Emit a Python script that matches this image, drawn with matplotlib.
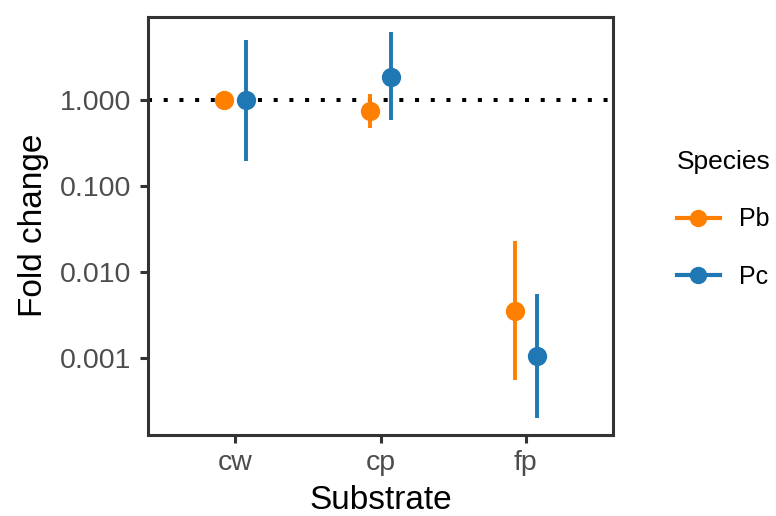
import numpy as np
import matplotlib
matplotlib.use("Agg")
import matplotlib.pyplot as plt
from matplotlib.lines import Line2D

plt.rcParams["font.family"] = ["Liberation Sans", "DejaVu Sans"]

# data
substrates = ["cw", "cp", "fp"]
species = ["Pb", "Pc"]
pb_fold = [1.0, 0.75, 0.00355]
pb_low = [1.0, 0.477, 0.000555]
pb_high = [1.0, 1.2, 0.0231]
pc_fold = [1.0, 1.9, 0.00105]
pc_low = [0.197, 0.585, 0.000202]
pc_high = [5.0, 6.2, 0.00555]

ORANGE = "#FF7F00"
BLUE = "#1F78B4"
BORDER = "#333333"

fig = plt.figure(figsize=(7.76, 5.16), dpi=100)
ax = fig.add_axes([148 / 776, 1 - 435 / 516, (613 - 148) / 776, (435 - 16.5) / 516])

ax.axhline(1.0, color="black", lw=2.9, linestyle=(0, (1, 2.9)), zorder=1)

x = np.arange(len(substrates))
dodge = 0.075
series = [
    (pb_fold, pb_low, pb_high, ORANGE, -dodge),
    (pc_fold, pc_low, pc_high, BLUE, dodge),
]
for fold, low, high, col, off in series:
    fold = np.array(fold)
    yerr = np.vstack([fold - np.array(low), np.array(high) - fold])
    ax.errorbar(x + off, fold, yerr=yerr, fmt="o", color=col, ms=13.9,
                elinewidth=2.8, capsize=0, mew=0, zorder=3)

ax.set_yscale("log")
ax.set_ylim(1.27e-4, 9.5)
ax.set_xlim(-0.6, 2.6)
ax.set_xticks(x)
ax.set_xticklabels(substrates)
ax.set_yticks([0.001, 0.01, 0.1, 1.0])
ax.set_yticklabels(["0.001", "0.010", "0.100", "1.000"])
ax.yaxis.set_minor_locator(matplotlib.ticker.NullLocator())

for s in ax.spines.values():
    s.set_color(BORDER)
    s.set_linewidth(2.2)
ax.tick_params(axis="both", length=6, width=2.2, color=BORDER,
               labelcolor="#4D4D4D", labelsize=20.5)
ax.tick_params(axis="y", pad=6)
ax.tick_params(axis="x", pad=5)

ax.set_xlabel("Substrate", fontsize=24, labelpad=6)
ax.set_ylabel("Fold change", fontsize=24, labelpad=8)

handles = [
    Line2D([], [], color=ORANGE, lw=3, marker="o", ms=12.5, mew=0),
    Line2D([], [], color=BLUE, lw=3, marker="o", ms=12.5, mew=0),
]
leg = fig.legend(handles, species, title="Species", loc="upper left",
                 bbox_to_anchor=(654 / 776, 1 - 127 / 516), frameon=False,
                 fontsize=18, title_fontsize=19, handlelength=1.75,
                 labelspacing=1.35, handletextpad=0.75, alignment="left")

fig.savefig("out.png", dpi=100)
